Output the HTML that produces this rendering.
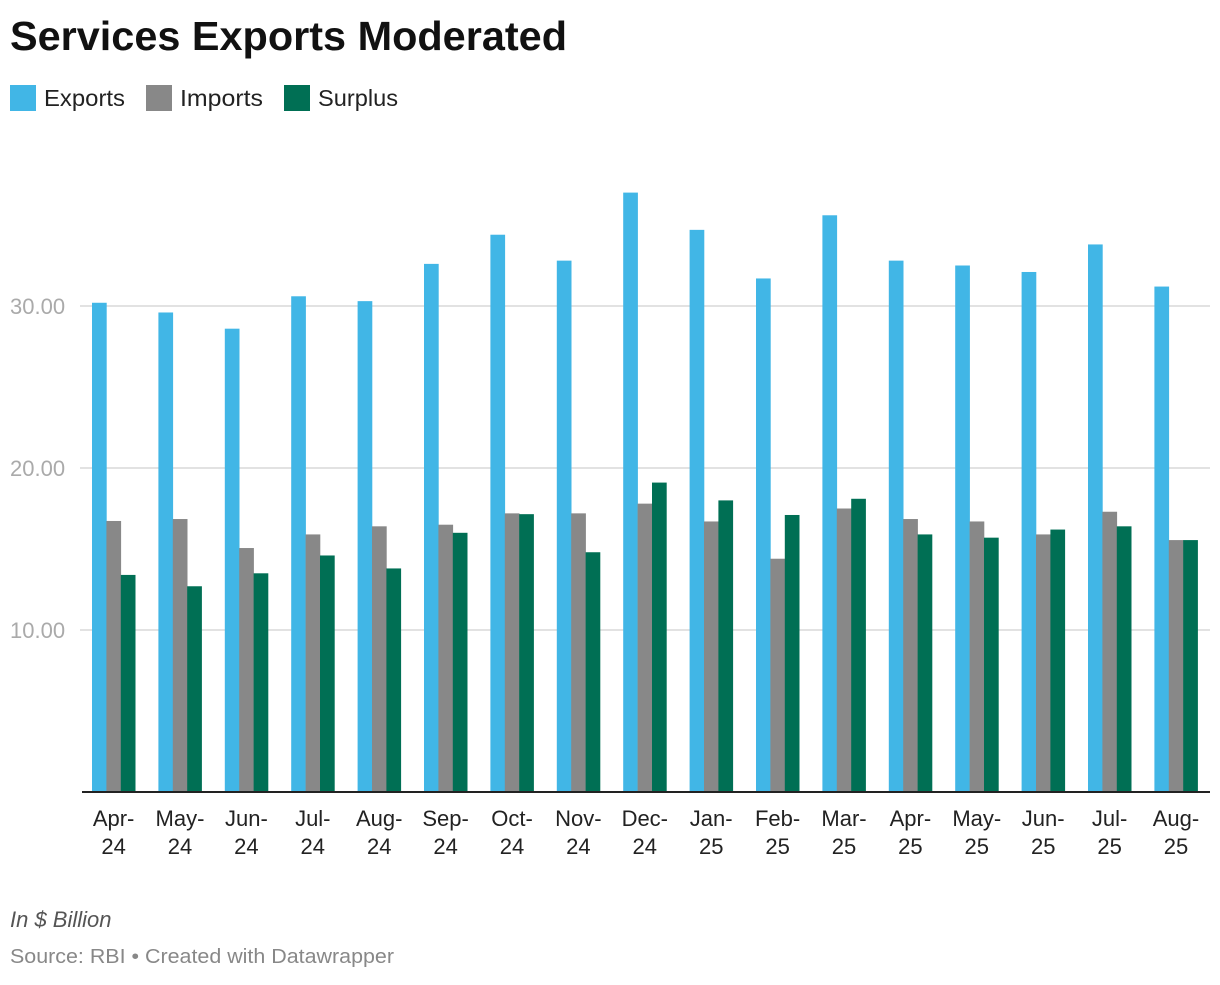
<!DOCTYPE html>
<html><head><meta charset="utf-8"><style>
body{margin:0;background:#fff;font-family:"Liberation Sans",sans-serif;}
svg text{font-family:"Liberation Sans",sans-serif;}
</style></head><body>
<svg width="1220" height="980" id="c">
<text x="10" y="50" font-size="41" font-weight="bold" fill="#111" textLength="557" lengthAdjust="spacingAndGlyphs">Services Exports Moderated</text>
<g>
<rect x="10" y="85" width="26" height="26" fill="#41b6e6"/>
<text x="44" y="106" font-size="23" fill="#222" textLength="81" lengthAdjust="spacingAndGlyphs">Exports</text>
<rect x="146" y="85" width="26" height="26" fill="#888888"/>
<text x="180" y="106" font-size="23" fill="#222" textLength="83" lengthAdjust="spacingAndGlyphs">Imports</text>
<rect x="284" y="85" width="26" height="26" fill="#006f54"/>
<text x="318" y="106" font-size="23" fill="#222" textLength="80" lengthAdjust="spacingAndGlyphs">Surplus</text>
</g>
<g id="plot"></g>
<text x="10" y="927" font-size="22" font-style="italic" fill="#555">In $ Billion</text>
<text x="10" y="963" font-size="20" fill="#888" textLength="384" lengthAdjust="spacingAndGlyphs">Source: RBI • Created with Datawrapper</text>
</svg>
<script>
const categories=["Apr-24","May-24","Jun-24","Jul-24","Aug-24","Sep-24","Oct-24","Nov-24","Dec-24","Jan-25","Feb-25","Mar-25","Apr-25","May-25","Jun-25","Jul-25","Aug-25"];
const exportsData=[30.2,29.6,28.6,30.6,30.3,32.6,34.4,32.8,37.0,34.7,31.7,35.6,32.8,32.5,32.1,33.8,31.2];
const importsData=[16.73,16.85,15.06,15.9,16.4,16.5,17.2,17.2,17.8,16.7,14.4,17.5,16.85,16.7,15.9,17.3,15.55];
const surplusData=[13.4,12.7,13.5,14.6,13.8,16.0,17.15,14.8,19.1,18.0,17.1,18.1,15.9,15.7,16.2,16.4,15.55];
const yTicks=[10,20,30];
const yTickLabels=["10.00","20.00","30.00"];
const NS="http://www.w3.org/2000/svg";
const g=document.getElementById('plot');
const y=v=>792-v*16.2;
const step=66.4, x0=92, bw=14.4;
function mk(t,a){const e=document.createElementNS(NS,t);for(const k in a)e.setAttribute(k,a[k]);g.appendChild(e);return e;}
yTicks.forEach((t,i)=>{
 const l=mk('line',{x1:80,x2:1210,y1:y(t),y2:y(t),stroke:'#e2e2e2','stroke-width':2});
 
 
 const tx=mk('text',{x:10,y:y(t)+8,'font-size':22,fill:'#aaa'});
 tx.textContent=yTickLabels[i];
 
 
});
const series=[[exportsData,'#41b6e6','exports'],[importsData,'#888888','imports'],[surplusData,'#006f54','surplus']];
categories.forEach((c,i)=>{
 series.forEach((s,j)=>{
  const v=s[0][i];
  const r=mk('rect',{x:x0+i*step+j*bw,y:y(v),width:bw+0.3,height:792-y(v),fill:s[1]});
  
  
 });
 const cx=x0+i*step+1.5*bw;
 const p=c.split('-');
 const t=mk('text',{x:cx,y:826,'font-size':22,fill:'#222','text-anchor':'middle'});
 
 
 const a=document.createElementNS(NS,'tspan');a.setAttribute('x',cx);a.textContent=p[0]+'-';t.appendChild(a);
 const b=document.createElementNS(NS,'tspan');b.setAttribute('x',cx);b.setAttribute('dy',28);b.textContent=p[1];t.appendChild(b);
});
const ax=mk('line',{x1:82,x2:1210,y1:792,y2:792,stroke:'#222','stroke-width':2});


</script>
</body></html>
